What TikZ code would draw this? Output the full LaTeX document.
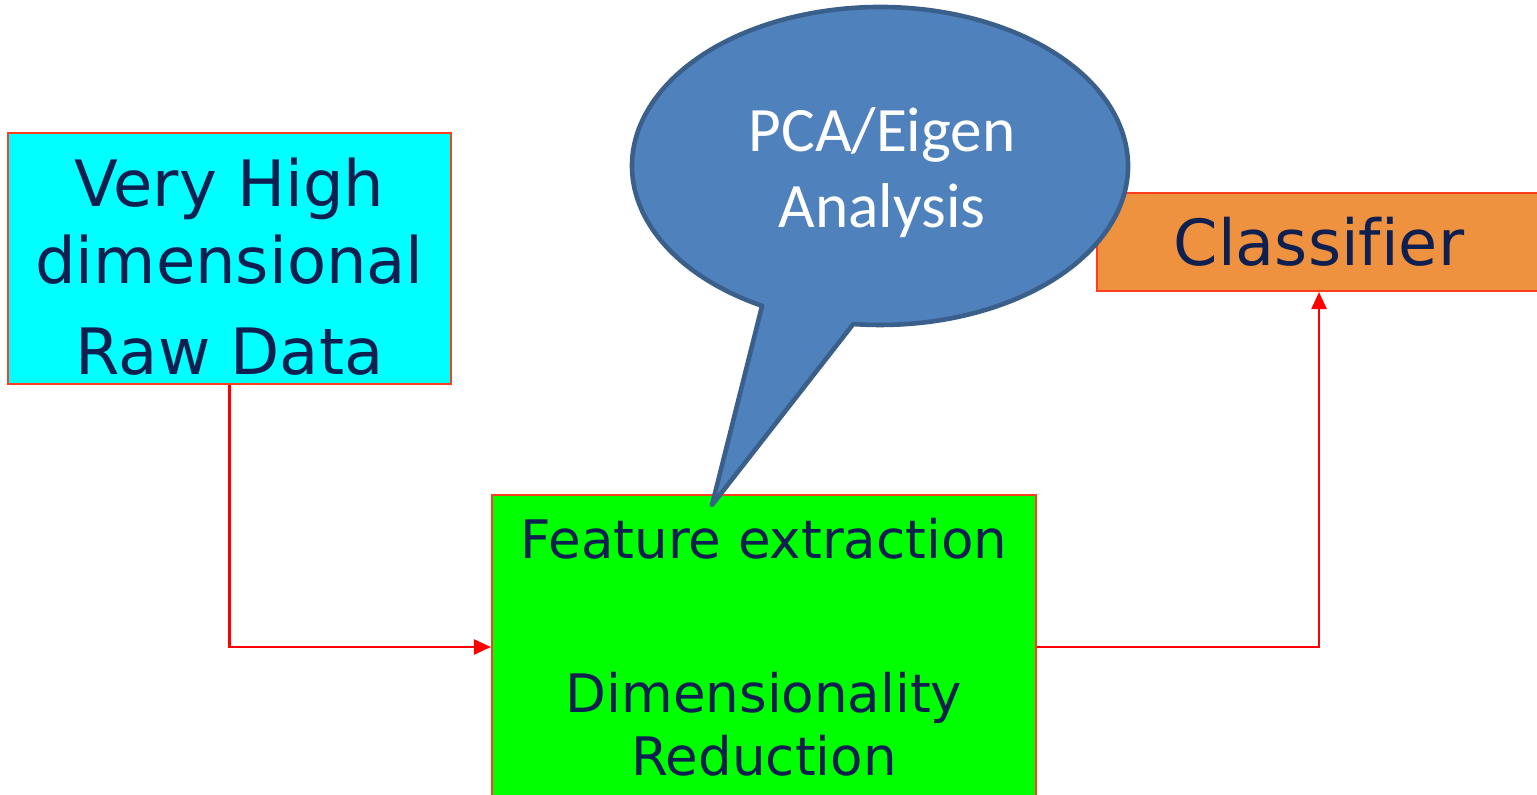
\documentclass[tikz,border=0pt]{standalone}
\usepackage{fontspec}
\setmainfont{DejaVu Sans}[Ligatures=NoCommon]
\newfontfamily\calloutfont{Carlito}
\usetikzlibrary{arrows.meta, positioning}
\definecolor{TextNavy}{HTML}{0F1F4F}
\definecolor{EdgeRed}{HTML}{FF3D1F}
\definecolor{RawCyan}{HTML}{00FFFF}
\definecolor{FeatGreen}{HTML}{00FF00}
\definecolor{ClsOrange}{HTML}{EE9240}
\definecolor{BubbleBlue}{HTML}{4F81BD}
\definecolor{BubbleEdge}{HTML}{3A5F8B}
\definecolor{FlowRed}{HTML}{FF0000}

\begin{document}
\begin{tikzpicture}[
    x=1cm, y=1cm, >={Triangle[length=0.17cm, width=0.15cm]},
    block/.style={draw=EdgeRed, line width=0.6pt, text=TextNavy, align=center, inner sep=0pt},
    flow/.style={->, draw=FlowRed, line width=0.7pt},
  ]
  \useasboundingbox (0,0) rectangle (15.37,7.94);
  % blocks
  \node[block, fill=RawCyan, minimum width=4.43cm, minimum height=2.51cm,
    font={\fontsize{18.2pt}{0.77cm}\selectfont}] (raw) at (2.295,5.355)
    {\rule{0pt}{0.65cm}Very High\\dimensional\\[0.14cm]Raw Data};
  \node[block, fill=FeatGreen, minimum width=5.44cm, minimum height=3.04cm,
    font={\fontsize{15.1pt}{0.63cm}\selectfont}] (feat) at (7.64,1.47)
    {Feature extraction\\[0.91cm]Dimensionality\\Reduction};
  \node[block, fill=ClsOrange, minimum width=4.44cm, minimum height=0.98cm,
    font={\fontsize{18.1pt}{0.77cm}\selectfont}] (cls) at (13.19,5.52) {Classifier};
  % flow
  \draw[flow] (raw.south) |- (feat.west);
  \draw[flow] (feat.east) -| (cls.south);
  % callout bubble
  \coordinate (bc) at (8.80,6.28);
  \coordinate (tip) at (7.12,2.89);
  \filldraw[fill=BubbleBlue, draw=BubbleEdge, line width=1.3pt, line join=round]
    (tip) -- ([shift={(bc)}]241.6:2.48 and 1.59)
    arc[start angle=241.6, end angle=-96.2, x radius=2.48, y radius=1.59] -- cycle;
  \node[text=white, align=center, font={\calloutfont\fontsize{18pt}{0.76cm}\selectfont}]
    (pca) at (8.82,6.21) {PCA/Eigen\\Analysis};
\end{tikzpicture}
\end{document}
